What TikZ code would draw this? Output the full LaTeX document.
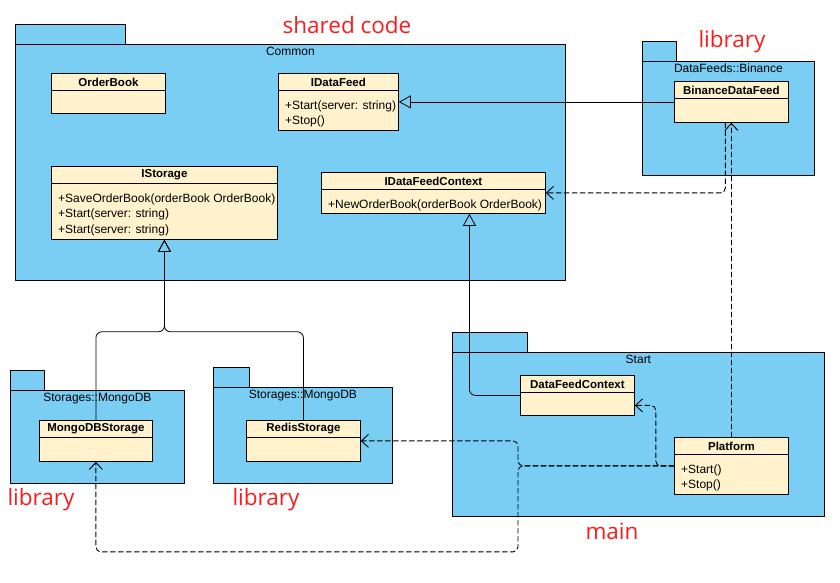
\documentclass[tikz,border=0pt]{standalone}
\usepackage{fontspec}
\setmainfont{Liberation Sans}
\newfontfamily\notefont{Open Sans}
\usetikzlibrary{arrows.meta,calc,positioning}
\definecolor{pkgblue}{RGB}{122,206,244}
\definecolor{clscream}{RGB}{255,242,204}
\definecolor{notered}{RGB}{250,28,28}
\begin{document}
\begin{tikzpicture}[x=1pt, y=-1pt, line join=round, line cap=round,
  font=\fontsize{12}{14}\selectfont,
  pkg/.style={draw, fill=pkgblue, line width=0.8pt},
  pkgbody/.style={pkg, anchor=north west, inner sep=0pt},
  pkglabel/.style={inner sep=0pt, font=\fontsize{12}{14}\selectfont},
  cls/.style={draw, fill=clscream, line width=0.8pt, anchor=north west, inner sep=0pt},
  clshead/.style={draw, fill=clscream, line width=0.8pt, anchor=north, minimum height=17pt,
    inner sep=0pt, font=\fontsize{11.5}{13}\selectfont\bfseries},
  methods/.style={anchor=north west, align=left, inner sep=0pt, font=\fontsize{12}{15.5}\selectfont},
  note/.style={text=notered, inner sep=0pt, font=\notefont\fontsize{22.5}{26}\selectfont},
  inherit/.style={-{Triangle[open, length=12pt, width=13pt]}, line width=0.8pt, rounded corners=6pt},
  depend/.style={-{Straight Barb[length=7pt, width=13pt]}, dash pattern=on 5pt off 3pt,
    line width=0.9pt, rounded corners=5pt}]
  \useasboundingbox (0,0) rectangle (840,582);
  % Các gói (package)
  \foreach \name/\x/\y/\w/\h/\tw/\title in {
    Common/15/44/550/236/110/Common,
    Binance/642/61/172/114/34/DataFeeds::Binance,
    Start/452/352/372/164/75/Start,
    Mongo/10/390/174/93/34/Storages::MongoDB,
    Redis/213/387/179/96/36/Storages::MongoDB}
  {
    \draw[pkg] (\x,\y-20) rectangle (\x+\tw,\y);
    \node[pkgbody, minimum width=\w pt, minimum height=\h pt] (\name) at (\x,\y) {};
    \node[pkglabel, below=3pt of \name.north] (\name-label) {\title};
  }
  % Các lớp (class)
  \foreach \name/\x/\y/\w/\h/\ops in {
    OrderBook/51/73/114/40/{},
    IDataFeed/278/73/120/57/{+Start(server: string)\\+Stop()},
    IStorage/51/166/226/73/{+SaveOrderBook(orderBook OrderBook)\\+Start(server: string)\\+Start(server: string)},
    IDataFeedContext/321/172/224/41/{+NewOrderBook(orderBook OrderBook)},
    BinanceDataFeed/674/81/114/41/{},
    DataFeedContext/520/375/114/40/{},
    Platform/674/437/114/57/{+Start()\\+Stop()},
    MongoDBStorage/39/420/113/41/{},
    RedisStorage/246/420/114/41/{}}
  {
    \node[cls, minimum width=\w pt, minimum height=\h pt] (\name) at (\x,\y) {};
    \node[clshead, minimum width=\w pt] (\name-head) at (\name.north) {\name};
    \node[methods] (\name-ops) at ($(\name-head.south west)+(7,9.5)$) {\ops};
  }
  % Kế thừa
  \coordinate (StorageJoin) at ($(IStorage.south)+(0,92)$);
  \draw[inherit] (MongoDBStorage.north) |- (StorageJoin) -- (IStorage.south);
  \draw[inherit] (RedisStorage.north) |- (StorageJoin) -- (IStorage.south);
  \draw[inherit] (DataFeedContext.west) -| ($(IDataFeedContext.south)+(36,0)$);
  \draw[inherit] (BinanceDataFeed) -- (IDataFeed);
  % Phụ thuộc
  \coordinate (PlatformFork) at ($(Platform.west)+(-156,0)$);
  \draw[depend] ($(BinanceDataFeed.south)+(-6,0)$) |- (IDataFeedContext.east);
  \draw[depend] (Platform) -- (BinanceDataFeed);
  \draw[depend] (Platform.west) -| ($(DataFeedContext.east)+(21,10)$) -- ($(DataFeedContext.east)+(0,10)$);
  \draw[depend] (Platform.west) -- (PlatformFork) |- (RedisStorage.east);
  \draw[depend] (Platform.west) -- (PlatformFork) -- ($(PlatformFork)+(0,86)$) -| (MongoDBStorage.south);
  % Ghi chú
  \node[note] (SharedNote) at (347,25) {shared code};
  \node[note] (BinanceNote) at (732,42) {library};
  \node[note] (MongoNote) at (41,500) {library};
  \node[note] (RedisNote) at (266,500) {library};
  \node[note] (MainNote) at (612,531) {main};
\end{tikzpicture}
\end{document}
